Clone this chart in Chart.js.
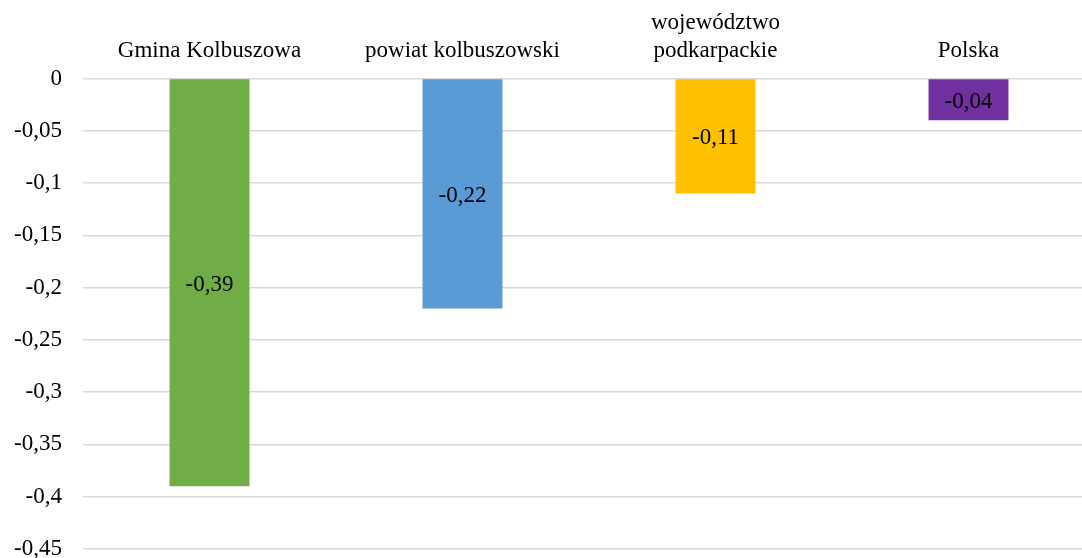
<!DOCTYPE html>
<html lang="pl">
<head>
<meta charset="utf-8">
<title>Wykres</title>
<script src="https://cdn.jsdelivr.net/npm/chart.js@4/dist/chart.umd.min.js"></script>
<style>
  html, body { margin: 0; padding: 0; background: #fff; overflow: hidden; }
  #wrap { position: relative; width: 1095px; height: 558px; }
</style>
</head>
<body>
<div id="wrap"><canvas id="barChart"></canvas></div>
<script>
'use strict';

// ── dane ──
const categories = ['Gmina Kolbuszowa', 'powiat kolbuszowski', ['województwo', 'podkarpackie'], 'Polska'];
const values     = [-0.39, -0.22, -0.11, -0.04];
const yTicks     = [0, -0.05, -0.1, -0.15, -0.2, -0.25, -0.3, -0.35, -0.4, -0.45];

// ── style ──
const barColors = ['#70AD47', '#5B9BD5', '#FFC000', '#7030A0'];
const FONT = { family: '"Liberation Serif", "Times New Roman", serif', size: 23, lineHeight: 1.2 };

const fmt = (v) => {
  const r = Math.round(v * 100) / 100;
  return r === 0 ? '0' : String(r).replace('.', ',');
};

// etykiety w środku słupków
const valueLabels = {
  id: 'valueLabels',
  afterDatasetsDraw(chart) {
    const ctx = chart.ctx;
    const meta = chart.getDatasetMeta(0);
    ctx.save();
    ctx.font = `${FONT.size}px ${FONT.family}`;
    ctx.fillStyle = '#000';
    ctx.textAlign = 'center';
    ctx.textBaseline = 'middle';
    meta.data.forEach((bar, i) => {
      ctx.fillText(fmt(values[i]), bar.x, (bar.y + bar.base) / 2 + 2);
    });
    ctx.restore();
  },
};

new Chart(document.getElementById('barChart').getContext('2d'), {
  type: 'bar',
  data: {
    labels: categories,
    datasets: [{
      data: values,
      backgroundColor: barColors,
      borderWidth: 0,
      categoryPercentage: 1,
      barPercentage: 0.316,
    }],
  },
  options: {
    responsive: true,
    maintainAspectRatio: false,
    animation: false,
    layout: { padding: { top: 0, right: 0, bottom: 9, left: 0 } },
    plugins: { legend: { display: false }, tooltip: { enabled: false } },
    scales: {
      x: {
        position: 'top',
        grid: { display: false, drawTicks: false },
        border: { display: false },
        ticks: { font: FONT, color: '#000', padding: 14, maxRotation: 0, autoSkip: false },
        afterFit: (s) => { s.height = 78.5; s.paddingLeft = 0; s.paddingRight = 0; },
      },
      y: {
        min: yTicks[yTicks.length - 1],
        max: yTicks[0],
        afterBuildTicks: (s) => { s.ticks = yTicks.map((v) => ({ value: v })); },
        grid: { color: '#d9d9d9', lineWidth: 1.5, drawTicks: false },
        border: { display: false },
        ticks: { font: FONT, color: '#000', padding: 21, callback: (v) => fmt(v) },
        afterFit: (s) => { s.width = 83; s.paddingTop = 0; s.paddingBottom = 0; },
      },
    },
  },
  plugins: [valueLabels],
});
</script>
</body>
</html>
